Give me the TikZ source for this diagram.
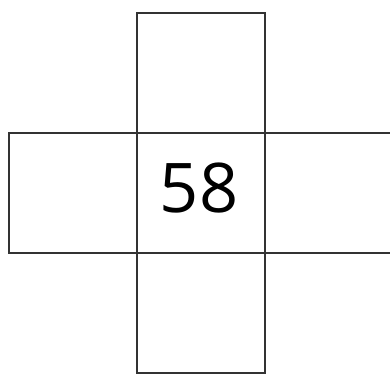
\documentclass[tikz,border=0pt]{standalone}
\usepackage{fontspec}
\setsansfont{Open Sans}
\usetikzlibrary{positioning}
\tikzset{
	cell/.style={rectangle, draw=black!80, line width=1.1pt, minimum width=2.56cm, minimum height=2.4cm, inner sep=0pt, outer sep=0pt},
	numtxt/.style={font=\sffamily\fontsize{39}{39}\selectfont, inner sep=0pt},
}
\begin{document}
\begin{tikzpicture}[x=0.02cm, y=-0.02cm]
	\useasboundingbox (0,0) rectangle (390,375);
	\clip (0,0) rectangle (390,375);
	\node[cell] (mid) at (201,193) {};
	\node[cell, above=0pt of mid] (top) {};
	\node[cell, below=0pt of mid] (bot) {};
	\node[cell, left=0pt of mid] (lft) {};
	\node[cell, right=0pt of mid] (rgt) {};
	\node[numtxt] (num) at ([xshift=-0.04cm, yshift=0.1cm]mid.center) {58};
\end{tikzpicture}
\end{document}
